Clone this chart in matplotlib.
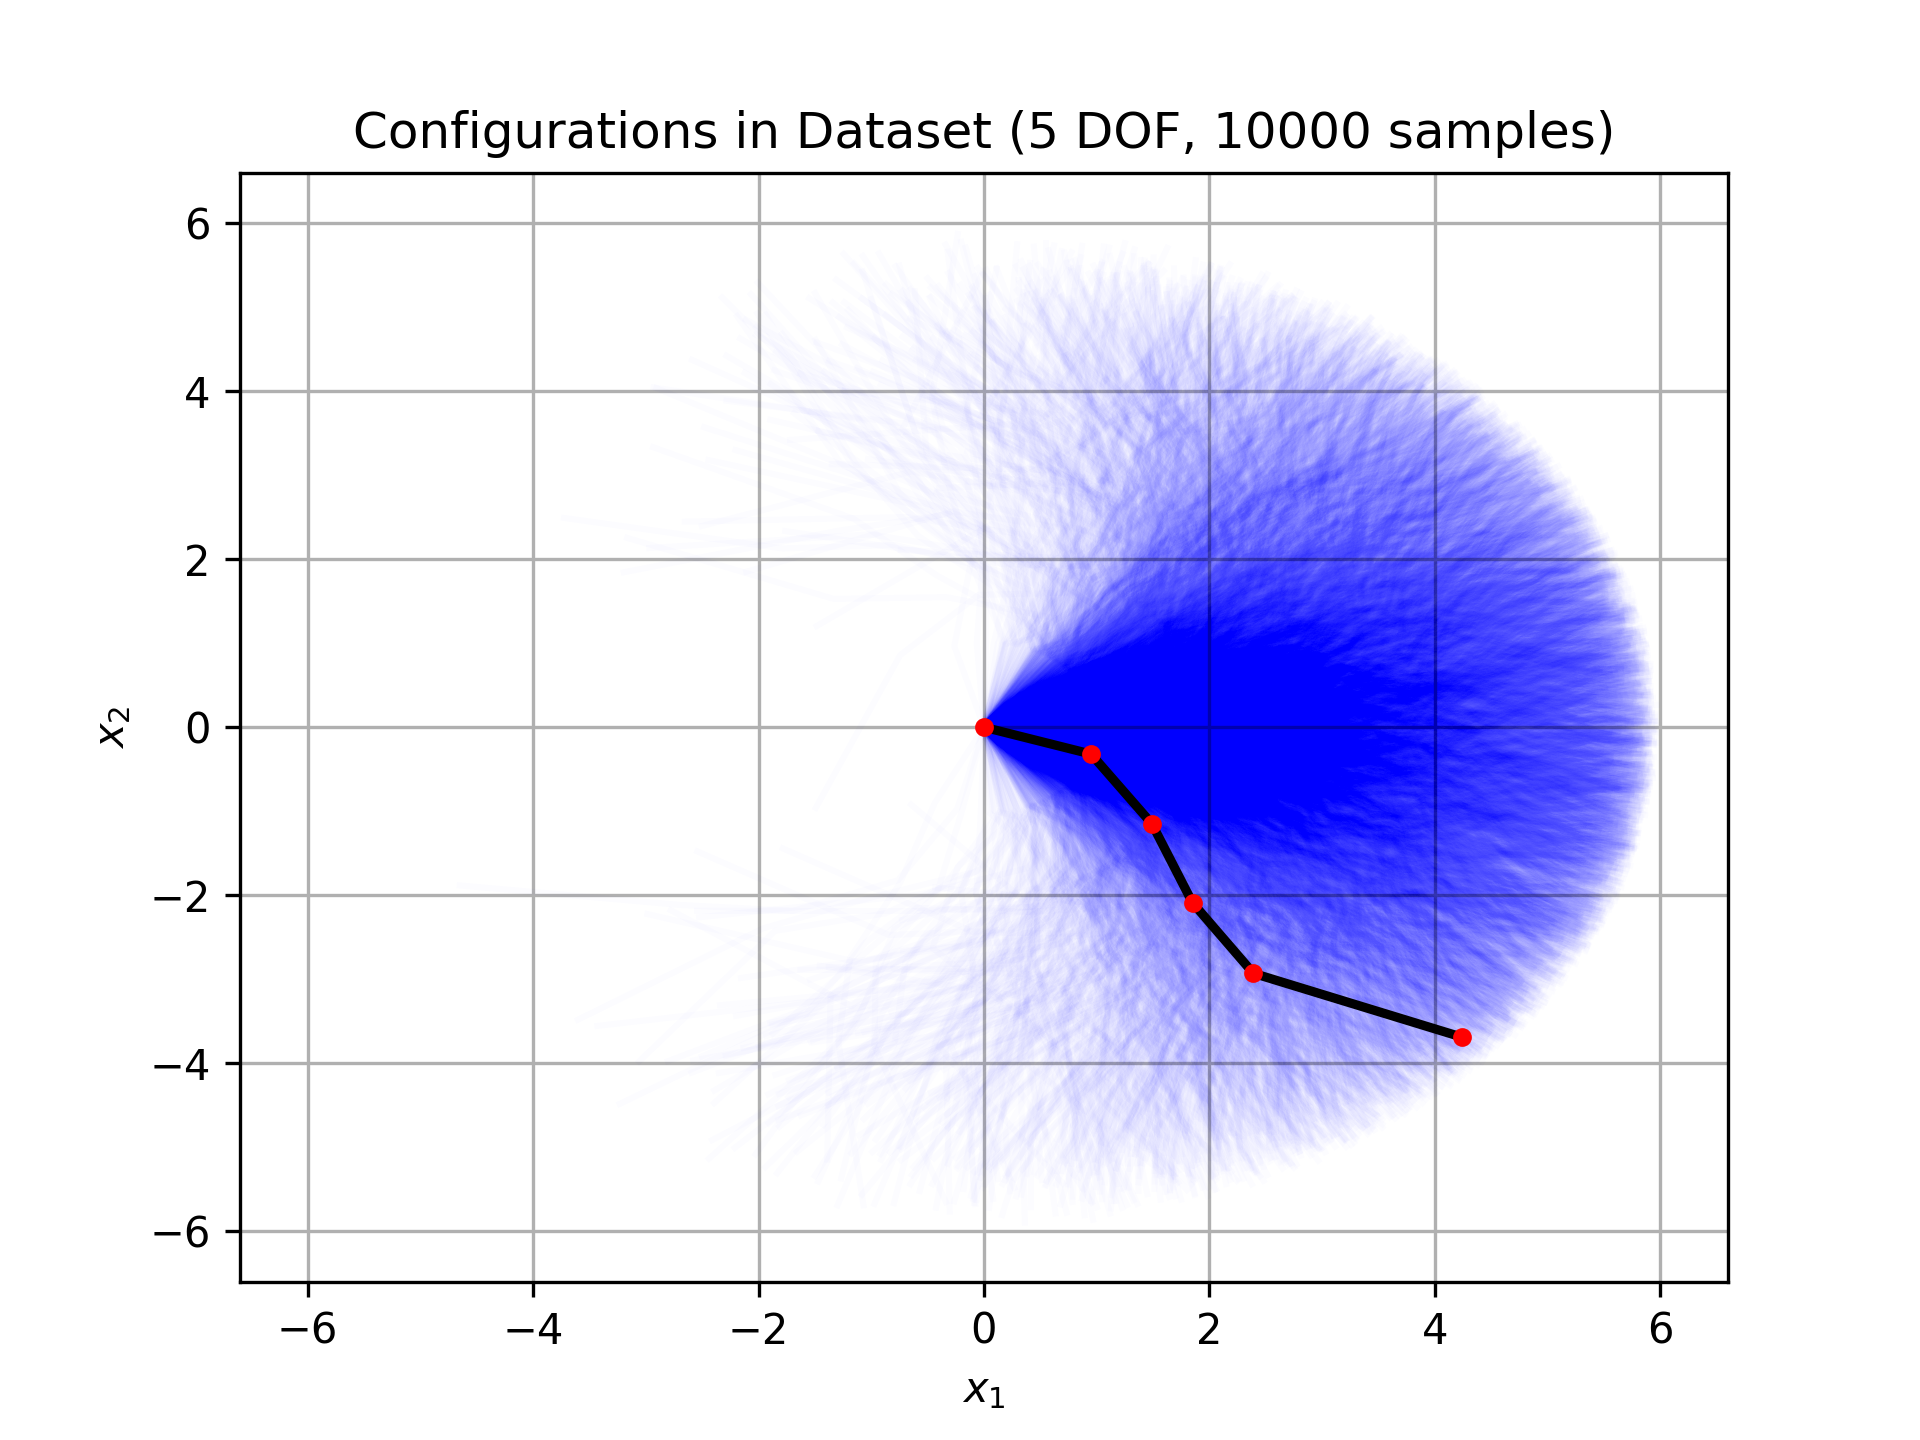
import matplotlib
matplotlib.use("Agg")
import matplotlib.pyplot as plt
import numpy as np
from matplotlib.collections import LineCollection

# arm description
link_lengths = [1.0, 1.0, 1.0, 1.0, 2.0]
n_samples = 10000
joint_std = 0.45   # spread of the relative joint angles (rad), judged from the cloud

# highlighted configuration
arm_x = [0.0, 0.95, 1.49, 1.85, 2.39, 4.24]
arm_y = [0.0, -0.32, -1.15, -2.09, -2.93, -3.69]

# sample cloud (fixed seed, cannot be read off the picture line by line)
rng = np.random.default_rng(0)
rel = rng.normal(0.0, joint_std, size=(n_samples, len(link_lengths)))
absang = np.cumsum(rel, axis=1)
L = np.array(link_lengths)
px = np.hstack([np.zeros((n_samples, 1)), np.cumsum(L * np.cos(absang), axis=1)])
py = np.hstack([np.zeros((n_samples, 1)), np.cumsum(L * np.sin(absang), axis=1)])
segs = np.stack([px, py], axis=2)

reach = sum(link_lengths)

fig, ax = plt.subplots(figsize=(6.4, 4.8), dpi=300)
lc = LineCollection(segs, colors="blue", alpha=0.01, linewidths=1.5)
ax.add_collection(lc)
ax.plot(arm_x, arm_y, color="k", lw=2.2, zorder=3)
ax.plot(arm_x, arm_y, "o", color="red", ms=3.5, zorder=4)

ax.set_xlim(-1.1 * reach, 1.1 * reach)
ax.set_ylim(-1.1 * reach, 1.1 * reach)
ax.grid(True)
ax.set_xlabel("$x_1$")
ax.set_ylabel("$x_2$")
ax.set_title("Configurations in Dataset (5 DOF, 10000 samples)")

fig.savefig("out.png", dpi=300)
